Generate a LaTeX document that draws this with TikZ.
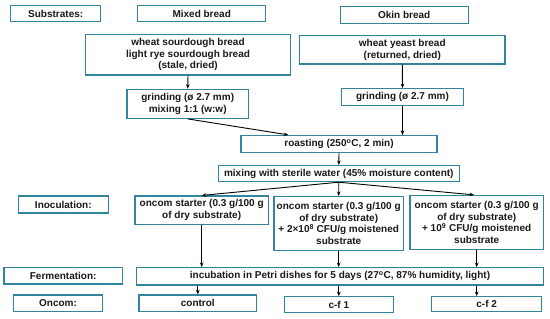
\documentclass[tikz,border=0pt]{standalone}
\usepackage{fontspec}
\setmainfont{Liberation Sans}
\usetikzlibrary{arrows.meta,calc}
\definecolor{tealb}{HTML}{31859C}
\begin{document}
\begin{tikzpicture}[x=1pt,y=-1pt,
  box/.style={draw=tealb,line width=1.2pt,fill=white,inner sep=0pt,align=center,
    font=\fontsize{10}{11.6}\selectfont\bfseries,text=black!90},
  arr/.style={line width=0.9pt,-{Stealth[length=4.5pt,width=3.6pt]}}]
\useasboundingbox (0,0) rectangle (550,319);
\node[box,minimum width=90pt,minimum height=16pt] (subs) at (55.7,13.7) {Substrates:};
\node[box,minimum width=128pt,minimum height=16pt] (mixed) at (201.7,13.7) {Mixed bread};
\node[box,minimum width=128pt,minimum height=17pt] (okin) at (404.2,14.6) {Okin bread};
\node[box,minimum width=204.6pt,minimum height=40.3pt] (wsb) at (188,54.8) {wheat sourdough bread\\light rye sourdough bread\\(stale, dried)};
\node[box,minimum width=205.3pt,minimum height=28.3pt] (wyb) at (402.3,49.8) {wheat yeast bread\\(returned, dried)};
\node[box,minimum width=121.3pt,minimum height=29pt] (grind1) at (187.7,103.8) {grinding (ø 2.7 mm)\\mixing 1:1 (w:w)};
\node[box,minimum width=121.6pt,minimum height=16.6pt] (grind2) at (402.5,97) {grinding (ø 2.7 mm)};
\node[box,minimum width=196pt,minimum height=17pt] (roast) at (339,144) {roasting (250\textsuperscript{o}C, 2 min)};
\node[box,minimum width=241pt,minimum height=16pt] (mix) at (338.8,173.6) {mixing with sterile water (45\% moisture content)};
\node[box,minimum width=90pt,minimum height=17pt] (inoc) at (63.3,204.5) {Inoculation:};
\node[box,minimum width=133.3pt,minimum height=28.3pt] (on1) at (201.7,210.2) {oncom starter (0.3 g/100 g\\of dry substrate)};
\node[box,minimum width=129.3pt,minimum height=54pt] (on2) at (338.7,223.5) {oncom starter (0.3 g/100 g\\of dry substrate)\\+ 2×10\textsuperscript{8} CFU/g moistened\\substrate};
\node[box,minimum width=133.3pt,minimum height=54pt] (on3) at (476.7,222.5) {oncom starter (0.3 g/100 g\\of dry substrate)\\+ 10\textsuperscript{9} CFU/g moistened\\substrate};
\node[box,minimum width=118.3pt,minimum height=16.7pt] (ferm) at (63.2,275.7) {Fermentation:};
\node[box,minimum width=406.6pt,minimum height=17.3pt] (incu) at (340,276.3) {incubation in Petri dishes for 5 days (27\textsuperscript{o}C, 87\% humidity, light)};
\node[box,minimum width=89.4pt,minimum height=16.7pt] (oncom) at (58,303.3) {Oncom:};
\node[box,minimum width=117.7pt,minimum height=16.7pt] (control) at (197.8,303.3) {control};
\node[box,minimum width=109pt,minimum height=16pt] (cf1) at (338.8,304.7) {c-f 1};
\node[box,minimum width=110pt,minimum height=15pt] (cf2) at (486.7,304.2) {c-f 2};
\coordinate (rin) at ($(roast.north west)+(48,0)$);
\draw[arr] (wsb.south) -- (grind1.north);
\draw[arr] (grind1.south) -- (rin);
\draw[arr] (wyb.south) -- (grind2.north);
\draw[arr] (grind2.south) -- (grind2.south |- roast.north);
\draw[arr] (roast.south) -- (mix.north);
\draw[arr] (mix.south) -- (on1.north);
\draw[arr] (mix.south) -- (on2.north);
\draw[arr] (mix.south) -- ($(on3.north)+(-2.5,0)$);
\draw[arr] (on1.south) -- (on1.south |- incu.north);
\draw[arr] (on2.south) -- (on2.south |- incu.north);
\draw[arr] (on3.south) -- (on3.south |- incu.north);
\draw[arr] (control.north |- incu.south) -- (control.north);
\draw[arr] (cf1.north |- incu.south) -- (cf1.north);
\draw[arr] (on3.south |- incu.south) -- (on3.south |- cf2.north);
\end{tikzpicture}
\end{document}
